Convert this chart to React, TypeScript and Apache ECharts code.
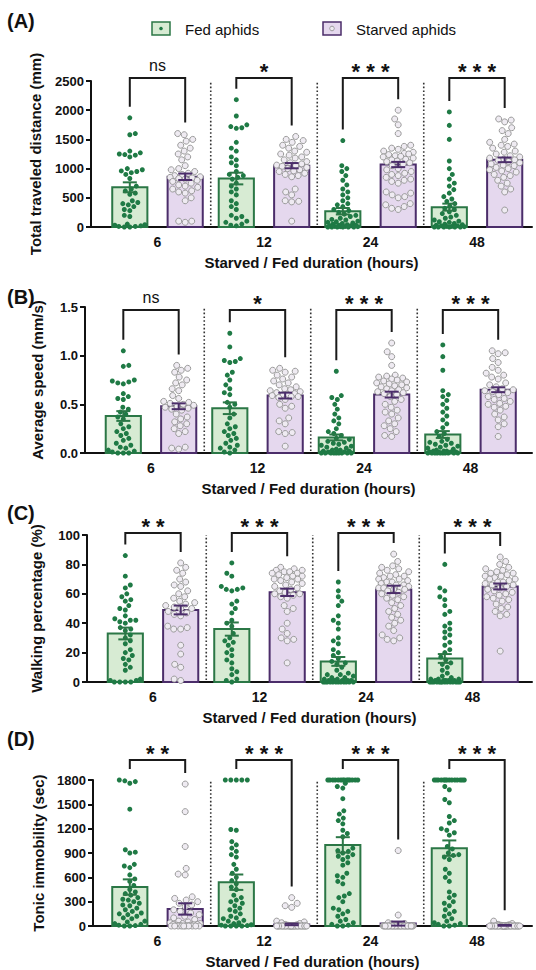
import React, { useEffect, useRef } from "react";
import * as echarts from "echarts";

// ---------------- DATA ----------------
const durationLabels = ["6", "12", "24", "48"];
const groupNames = ["Fed aphids", "Starved aphids"];
const xTitle = "Starved / Fed duration (hours)";

// (A) Total traveled distance (mm)
const distanceFedMean = [680, 830, 270, 340];
const distanceFedSem = [85, 100, 55, 60];
const distanceStarvedMean = [860, 1050, 1070, 1150];
const distanceStarvedSem = [55, 45, 45, 40];
const distanceSig = ["ns", "*", "***", "***"];
const distanceFedPoints = [
  [1870, 1600, 1580, 1300, 1270, 1250, 1240, 1230, 1200, 1000, 980, 960, 950, 930, 900, 830, 700, 650, 620, 580, 560, 450, 420, 400, 380, 350, 300, 280, 200, 180, 50, 40, 30, 20, 10, 10, 0, 0],
  [2180, 1900, 1750, 1720, 1700, 1690, 1450, 1350, 1300, 1200, 1150, 1100, 1050, 950, 900, 880, 850, 820, 750, 700, 650, 600, 550, 450, 400, 350, 300, 200, 180, 150, 100, 80, 50, 30, 20],
  [1480, 1050, 1000, 950, 880, 800, 720, 650, 600, 550, 500, 450, 400, 380, 350, 300, 280, 250, 220, 200, 180, 150, 130, 120, 100, 90, 80, 70, 60, 50, 40, 30, 30, 20, 20, 10, 10, 5, 5, 0, 0, 0, 0, 0, 0],
  [1970, 1740, 1500, 1130, 1000, 900, 820, 750, 700, 640, 580, 520, 480, 440, 400, 360, 320, 300, 260, 230, 200, 170, 150, 120, 100, 90, 80, 60, 50, 40, 30, 20, 20, 10, 10, 5, 0, 0, 0, 0, 0, 0],
];
const distanceStarvedPoints = [
  [1600, 1580, 1500, 1470, 1400, 1350, 1300, 1250, 1200, 1150, 1050, 1000, 980, 950, 920, 900, 880, 860, 850, 840, 830, 820, 800, 780, 750, 720, 700, 680, 650, 620, 600, 580, 500, 450, 100, 80, 100],
  [1550, 1500, 1480, 1450, 1400, 1380, 1350, 1300, 1280, 1250, 1230, 1200, 1180, 1150, 1120, 1100, 1080, 1060, 1050, 1040, 1020, 1000, 980, 960, 950, 920, 900, 880, 860, 650, 600, 550, 450, 440, 430, 100],
  [2000, 1850, 1750, 1600, 1400, 1380, 1350, 1330, 1300, 1280, 1260, 1250, 1240, 1220, 1210, 1200, 1180, 1160, 1150, 1130, 1120, 1100, 1080, 1050, 1000, 980, 950, 920, 900, 880, 850, 820, 800, 780, 750, 600, 580, 550, 520, 500, 400, 380, 350, 320, 300],
  [1850, 1830, 1800, 1700, 1650, 1600, 1500, 1450, 1420, 1400, 1380, 1350, 1300, 1280, 1250, 1220, 1200, 1180, 1160, 1150, 1140, 1120, 1100, 1080, 1060, 1050, 1020, 1000, 980, 960, 940, 900, 880, 850, 800, 750, 700, 650, 600, 290],
];

// (B) Average speed (mm/s)
const speedFedMean = [0.38, 0.46, 0.16, 0.19];
const speedFedSem = [0.05, 0.06, 0.03, 0.035];
const speedStarvedMean = [0.48, 0.59, 0.6, 0.65];
const speedStarvedSem = [0.03, 0.03, 0.03, 0.025];
const speedSig = ["ns", "*", "***", "***"];
const speedFedPoints = [
  [1.05, 0.9, 0.89, 0.75, 0.74, 0.73, 0.72, 0.71, 0.61, 0.58, 0.56, 0.55, 0.47, 0.45, 0.42, 0.4, 0.37, 0.35, 0.3, 0.27, 0.25, 0.22, 0.2, 0.18, 0.15, 0.13, 0.1, 0.08, 0.06, 0.05, 0.03, 0.02, 0.01, 0, 0, 0],
  [1.23, 1.09, 0.97, 0.95, 0.94, 0.93, 0.83, 0.8, 0.75, 0.7, 0.66, 0.62, 0.6, 0.52, 0.5, 0.47, 0.4, 0.36, 0.3, 0.27, 0.25, 0.22, 0.2, 0.18, 0.15, 0.13, 0.1, 0.08, 0.06, 0.05, 0.03, 0.01, 0],
  [0.84, 0.59, 0.57, 0.55, 0.5, 0.45, 0.4, 0.36, 0.33, 0.3, 0.25, 0.22, 0.2, 0.18, 0.15, 0.14, 0.12, 0.11, 0.1, 0.09, 0.08, 0.07, 0.06, 0.05, 0.04, 0.03, 0.03, 0.02, 0.02, 0.01, 0.01, 0, 0, 0, 0, 0, 0, 0, 0, 0],
  [1.11, 0.99, 0.85, 0.64, 0.6, 0.58, 0.54, 0.5, 0.46, 0.42, 0.38, 0.34, 0.3, 0.26, 0.22, 0.2, 0.17, 0.14, 0.12, 0.11, 0.1, 0.09, 0.08, 0.07, 0.06, 0.05, 0.04, 0.03, 0.02, 0.02, 0.02, 0.01, 0.01, 0.01, 0.01, 0, 0, 0, 0, 0, 0, 0, 0, 0, 0],
];
const speedStarvedPoints = [
  [0.9, 0.87, 0.85, 0.83, 0.78, 0.75, 0.72, 0.7, 0.66, 0.64, 0.59, 0.56, 0.53, 0.52, 0.51, 0.5, 0.49, 0.48, 0.47, 0.46, 0.45, 0.44, 0.4, 0.37, 0.35, 0.32, 0.3, 0.28, 0.25, 0.22, 0.2, 0.06, 0.05, 0.04],
  [0.87, 0.85, 0.84, 0.83, 0.8, 0.78, 0.76, 0.74, 0.72, 0.7, 0.68, 0.66, 0.65, 0.64, 0.63, 0.62, 0.61, 0.6, 0.6, 0.59, 0.58, 0.58, 0.57, 0.55, 0.5, 0.48, 0.46, 0.36, 0.33, 0.3, 0.22, 0.21, 0.2, 0.07],
  [1.13, 1.04, 0.99, 0.9, 0.8, 0.79, 0.78, 0.77, 0.76, 0.75, 0.74, 0.73, 0.72, 0.71, 0.7, 0.69, 0.68, 0.67, 0.66, 0.65, 0.64, 0.63, 0.62, 0.61, 0.6, 0.58, 0.55, 0.53, 0.5, 0.47, 0.44, 0.42, 0.4, 0.36, 0.33, 0.3, 0.28, 0.25, 0.22, 0.18, 0.17],
  [1.05, 1.03, 1.02, 0.97, 0.93, 0.88, 0.85, 0.82, 0.8, 0.78, 0.76, 0.72, 0.7, 0.68, 0.66, 0.65, 0.64, 0.63, 0.62, 0.6, 0.58, 0.56, 0.55, 0.53, 0.51, 0.5, 0.48, 0.47, 0.44, 0.4, 0.37, 0.34, 0.3, 0.27, 0.17],
];

// (C) Walking percentage (%)
const walkFedMean = [33, 36, 14, 16];
const walkFedSem = [4, 4.5, 3, 3];
const walkStarvedMean = [49, 61, 63, 65];
const walkStarvedSem = [3, 2.5, 2.5, 2];
const walkSig = ["**", "***", "***", "***"];
const walkFedPoints = [
  [86, 72, 66, 64, 60, 58, 56, 55, 52, 50, 49, 45, 43, 42, 42, 41, 40, 37, 36, 35, 32, 30, 28, 26, 22, 20, 18, 16, 15, 12, 10, 8, 2, 1, 1, 0, 0, 0, 0],
  [81, 74, 72, 65, 64, 63, 63, 62, 55, 53, 50, 47, 42, 40, 38, 33, 30, 28, 27, 25, 22, 20, 18, 15, 13, 9, 7, 5, 2, 1, 0],
  [68, 62, 58, 55, 52, 45, 42, 40, 36, 30, 28, 26, 22, 20, 18, 16, 14, 13, 12, 10, 8, 6, 5, 5, 4, 3, 3, 2, 2, 1, 1, 1, 1, 1, 0, 0, 0, 0, 0, 0, 0, 0, 0, 0, 0, 0],
  [80, 64, 62, 58, 56, 52, 48, 46, 40, 38, 36, 34, 32, 30, 27, 25, 22, 20, 17, 15, 13, 12, 10, 8, 6, 4, 3, 2, 2, 2, 1, 1, 1, 1, 1, 0, 0, 0, 0, 0, 0, 0, 0, 0, 0, 0, 0, 0, 0],
];
const walkStarvedPoints = [
  [81, 78, 76, 74, 70, 68, 66, 65, 62, 60, 58, 57, 55, 54, 53, 52, 51, 50, 50, 48, 47, 46, 45, 38, 37, 36, 36, 25, 19, 12, 10, 2, 1],
  [78, 77, 76, 76, 75, 75, 74, 74, 73, 72, 72, 71, 70, 70, 69, 68, 67, 66, 65, 64, 63, 62, 61, 60, 60, 59, 58, 57, 52, 50, 48, 40, 36, 33, 30, 29, 28, 13],
  [87, 82, 79, 78, 77, 76, 75, 74, 73, 72, 72, 71, 70, 70, 69, 68, 68, 67, 66, 66, 65, 65, 64, 64, 64, 63, 63, 62, 61, 60, 59, 58, 57, 56, 54, 52, 50, 48, 46, 44, 42, 40, 38, 35, 32, 30, 29, 28],
  [85, 82, 80, 78, 77, 76, 75, 74, 74, 73, 72, 72, 71, 70, 70, 69, 68, 68, 67, 66, 66, 65, 64, 63, 62, 61, 60, 59, 58, 57, 56, 55, 53, 51, 50, 48, 46, 45, 21],
];

// (D) Tonic immobility (sec)
const tonicFedMean = [480, 540, 1000, 960];
const tonicFedSem = [95, 95, 95, 95];
const tonicStarvedMean = [210, 20, 30, 8];
const tonicStarvedSem = [70, 10, 25, 5];
const tonicSig = ["**", "***", "***", "***"];
const tonicFedPoints = [
  [1800, 1790, 1780, 1760, 1440, 940, 910, 900, 760, 740, 720, 630, 580, 550, 500, 450, 420, 400, 380, 350, 330, 320, 300, 280, 260, 250, 220, 200, 180, 160, 150, 140, 120, 100, 90, 60, 50, 30, 20, 10, 5, 0, 0],
  [1800, 1800, 1800, 1800, 1800, 1190, 1180, 1040, 1000, 960, 920, 880, 850, 760, 700, 650, 600, 560, 520, 480, 450, 380, 350, 320, 300, 280, 250, 220, 200, 180, 150, 120, 100, 90, 70, 60, 40, 30, 15, 10, 5, 0, 0, 0, 0],
  [1800, 1800, 1800, 1800, 1800, 1800, 1800, 1800, 1800, 1800, 1800, 1800, 1800, 1800, 1760, 1720, 1700, 1570, 1420, 1380, 1330, 1300, 1260, 1180, 1140, 1100, 960, 930, 920, 900, 880, 860, 850, 820, 780, 750, 650, 620, 600, 550, 520, 400, 370, 350, 300, 220, 200, 180, 150, 120, 80, 60, 40, 20, 10, 0, 0],
  [1800, 1800, 1800, 1800, 1800, 1800, 1800, 1800, 1800, 1800, 1800, 1800, 1800, 1800, 1720, 1680, 1560, 1520, 1350, 1300, 1270, 1200, 1180, 1150, 1120, 980, 950, 900, 880, 870, 850, 820, 700, 650, 600, 550, 420, 380, 350, 300, 280, 250, 200, 180, 150, 120, 90, 60, 40, 30, 20, 10, 0, 0],
];
const tonicStarvedPoints = [
  [1750, 1410, 980, 710, 640, 630, 360, 340, 320, 300, 280, 260, 240, 200, 180, 160, 140, 120, 100, 80, 60, 50, 40, 30, 30, 20, 20, 15, 10, 10, 5, 5, 0, 0, 0, 0, 0, 0, 0, 0, 0, 0],
  [350, 280, 250, 230, 60, 50, 40, 30, 20, 15, 10, 8, 6, 5, 4, 3, 2, 1, 0, 0, 0, 0, 0, 0, 0, 0, 0, 0, 0, 0, 0, 0, 0, 0, 0, 0, 0, 0, 0, 0, 0, 0, 0, 0, 0, 0],
  [930, 135, 40, 30, 25, 20, 15, 10, 8, 5, 3, 2, 1, 0, 0, 0, 0, 0, 0, 0, 0, 0, 0, 0, 0, 0, 0, 0, 0, 0, 0, 0, 0, 0, 0, 0, 0, 0],
  [60, 30, 20, 15, 10, 8, 5, 3, 2, 1, 0, 0, 0, 0, 0, 0, 0, 0, 0, 0, 0, 0, 0, 0, 0, 0, 0, 0, 0, 0, 0, 0, 0, 0, 0, 0, 0, 0, 0, 0],
];

// ---------------- PANELS (built from the arrays above) ----------------
const panels = [
  { fedMean: distanceFedMean, fedSem: distanceFedSem, stvMean: distanceStarvedMean, stvSem: distanceStarvedSem, fedPts: distanceFedPoints, stvPts: distanceStarvedPoints, sig: distanceSig, yMax: 2500, yStep: 500, dec: 0, yName: "Total traveled distance (mm)", tag: "(A)" },
  { fedMean: speedFedMean, fedSem: speedFedSem, stvMean: speedStarvedMean, stvSem: speedStarvedSem, fedPts: speedFedPoints, stvPts: speedStarvedPoints, sig: speedSig, yMax: 1.5, yStep: 0.5, dec: 1, yName: "Average speed (mm/s)", tag: "(B)" },
  { fedMean: walkFedMean, fedSem: walkFedSem, stvMean: walkStarvedMean, stvSem: walkStarvedSem, fedPts: walkFedPoints, stvPts: walkStarvedPoints, sig: walkSig, yMax: 100, yStep: 20, dec: 0, yName: "Walking percentage (%)", tag: "(C)" },
  { fedMean: tonicFedMean, fedSem: tonicFedSem, stvMean: tonicStarvedMean, stvSem: tonicStarvedSem, fedPts: tonicFedPoints, stvPts: tonicStarvedPoints, sig: tonicSig, yMax: 1800, yStep: 300, dec: 0, yName: "Tonic immobility (sec)", tag: "(D)" },
];

// ---------------- LAYOUT / STYLE ----------------
const layout = [
  { top: 81, bottom: 227, left: 91, center0: 157.5, bracketPx: 3, nameGap: 48, tagY: 22 },
  { top: 307, bottom: 453, left: 85, center0: 151, bracketPx: -3, nameGap: 40, tagY: 298 },
  { top: 535, bottom: 682, left: 87, center0: 153, bracketPx: 2, nameGap: 43, tagY: 514 },
  { top: 780, bottom: 927, left: 93, center0: 157.5, bracketPx: 20, nameGap: 46, tagY: 740 },
];
const X_UNIT = 106.5;
const RIGHT_EDGE = 532;
const SIDE = 0.26;
const BAR_W = 0.33;
const FONT = '"Liberation Sans", Arial, Helvetica, sans-serif';
const INK = "#111";
const FED_DARK = "#2b7746";
const FED_FILL = "#d7ebd3";
const FED_DOT = "#1f7a45";
const STV_DARK = "#4b2d6a";
const STV_FILL = "#e5d8ee";
const STV_RING = "#9a9a9a";
const STV_RING_FILL = "#efebf2";

function swarmOffsets(values: number[], pxPerUnit: number, minDist: number, maxOff: number): number[] {
  const order = values.map((_, i) => i).sort((a, b) => values[a] - values[b]);
  const placed: { x: number; y: number }[] = [];
  const out: number[] = new Array(values.length).fill(0);
  const cands: number[] = [0];
  for (let s = 0.5; s <= maxOff + 1e-9; s += 0.5) cands.push(s, -s);
  order.forEach((idx, n) => {
    const y = values[idx] * pxPerUnit;
    let best = 0;
    let bestD = -1;
    for (const c0 of cands) {
      const c = n % 2 ? -c0 : c0;
      let d = Infinity;
      for (const p of placed) {
        const dy = p.y - y;
        if (Math.abs(dy) >= minDist) continue;
        const dd = Math.hypot(p.x - c, dy);
        if (dd < d) d = dd;
      }
      if (d >= minDist) {
        best = c;
        break;
      }
      if (d > bestD) {
        bestD = d;
        best = c;
      }
    }
    placed.push({ x: best, y });
    out[idx] = best;
  });
  return out;
}

function barRenderer(stroke: string, fill: string) {
  return (_params: any, api: any) => {
    const x = api.value(0);
    const m = api.value(1);
    const base = api.coord([x, 0]);
    const top = api.coord([x, m]);
    const w = api.size([BAR_W, 0])[0];
    return {
      type: "rect",
      shape: { x: base[0] - w / 2, y: top[1], width: w, height: base[1] - top[1] },
      style: { fill, stroke, lineWidth: 2 },
    };
  };
}

function errRenderer(stroke: string) {
  return (_params: any, api: any) => {
    const x = api.value(0);
    const m = api.value(1);
    const s = api.value(2);
    const hi = api.coord([x, m + s]);
    const lo = api.coord([x, Math.max(0, m - s)]);
    const cw = 7;
    const st = { stroke, lineWidth: 2 };
    return {
      type: "group",
      children: [
        { type: "line", shape: { x1: hi[0], y1: hi[1], x2: lo[0], y2: lo[1] }, style: st },
        { type: "line", shape: { x1: hi[0] - cw, y1: hi[1], x2: hi[0] + cw, y2: hi[1] }, style: st },
        { type: "line", shape: { x1: lo[0] - cw, y1: lo[1], x2: lo[0] + cw, y2: lo[1] }, style: st },
      ],
    };
  };
}

function buildOption() {
  const grid: any[] = [];
  const xAxis: any[] = [];
  const yAxis: any[] = [];
  const series: any[] = [];
  const graphic: any[] = [];

  panels.forEach((p, k) => {
    const L = layout[k];
    const xMin = -(L.center0 - L.left) / X_UNIT;
    const xMax = (RIGHT_EDGE - L.center0) / X_UNIT;
    grid.push({ left: L.left, top: L.top, width: RIGHT_EDGE - L.left, height: L.bottom - L.top });
    xAxis.push({
      gridIndex: k,
      type: "value",
      min: xMin,
      max: xMax,
      axisLine: { show: true, onZero: false, lineStyle: { color: INK, width: 2 } },
      axisTick: { show: false },
      splitLine: { show: false },
      axisLabel: {
        customValues: [0, 1, 2, 3],
        formatter: (v: number) => durationLabels[Math.round(v)] ?? "",
        fontSize: 14,
        fontWeight: "bold",
        fontFamily: FONT,
        color: INK,
        margin: 8,
      },
      name: xTitle,
      nameLocation: "middle",
      nameGap: 28,
      nameTextStyle: { fontSize: 15, fontWeight: "bold", fontFamily: FONT, color: INK },
    });
    yAxis.push({
      gridIndex: k,
      type: "value",
      min: 0,
      max: p.yMax,
      interval: p.yStep,
      axisLine: { show: true, onZero: false, lineStyle: { color: INK, width: 2 } },
      axisTick: { show: true, length: 5, lineStyle: { color: INK, width: 2 } },
      splitLine: { show: false },
      axisLabel: {
        formatter: (v: number) => v.toFixed(p.dec),
        fontSize: 13,
        fontWeight: "bold",
        fontFamily: FONT,
        color: INK,
        margin: 7,
      },
      name: p.yName,
      nameLocation: "middle",
      nameGap: L.nameGap,
      nameTextStyle: { fontSize: 15, fontWeight: "bold", fontFamily: FONT, color: INK },
    });

    const pyu = (L.bottom - L.top) / p.yMax;
    const fedData: number[][] = [];
    const stvData: number[][] = [];
    p.fedPts.forEach((vals, i) => {
      const offs = swarmOffsets(vals, pyu, 5.4, 15);
      vals.forEach((v, j) => fedData.push([i - SIDE + offs[j] / X_UNIT, v]));
    });
    p.stvPts.forEach((vals, i) => {
      const offs = swarmOffsets(vals, pyu, 6.6, 15);
      vals.forEach((v, j) => stvData.push([i + SIDE + offs[j] / X_UNIT, v]));
    });

    const common = { xAxisIndex: k, yAxisIndex: k, silent: true };

    // separators
    series.push({
      ...common,
      type: "custom",
      coordinateSystem: "cartesian2d",
      clip: false,
      z: 1,
      encode: { x: 0, y: 1 },
      data: [[0.5, 0], [1.5, 0], [2.5, 0]],
      renderItem: (_pa: any, api: any) => {
        const x = api.value(0);
        const b = api.coord([x, 0]);
        const t = api.coord([x, p.yMax]);
        return {
          type: "line",
          shape: { x1: b[0], y1: b[1] - 2, x2: t[0], y2: t[1] },
          style: { stroke: "#333", lineWidth: 1.6, lineDash: [1.6, 2.2] },
        };
      },
    });

    // bars
    series.push({
      ...common,
      type: "custom",
      coordinateSystem: "cartesian2d",
      clip: false,
      z: 2,
      encode: { x: 0, y: 1 },
      data: p.fedMean.map((m, i) => [i - SIDE, m, p.fedSem[i]]),
      renderItem: barRenderer(FED_DARK, FED_FILL),
    });
    series.push({
      ...common,
      type: "custom",
      coordinateSystem: "cartesian2d",
      clip: false,
      z: 2,
      encode: { x: 0, y: 1 },
      data: p.stvMean.map((m, i) => [i + SIDE, m, p.stvSem[i]]),
      renderItem: barRenderer(STV_DARK, STV_FILL),
    });

    // points
    series.push({
      ...common,
      name: groupNames[0],
      type: "scatter",
      clip: false,
      z: 3,
      symbol: "circle",
      symbolSize: 5,
      itemStyle: { color: FED_DOT, opacity: 1 },
      data: fedData,
    });
    series.push({
      ...common,
      name: groupNames[1],
      type: "scatter",
      clip: false,
      z: 3,
      symbol: "circle",
      symbolSize: 6,
      itemStyle: { color: STV_RING_FILL, borderColor: STV_RING, borderWidth: 1, opacity: 1 },
      data: stvData,
    });

    // error bars
    series.push({
      ...common,
      type: "custom",
      coordinateSystem: "cartesian2d",
      clip: false,
      z: 4,
      encode: { x: 0, y: 1 },
      data: p.fedMean.map((m, i) => [i - SIDE, m, p.fedSem[i]]),
      renderItem: errRenderer(FED_DARK),
    });
    series.push({
      ...common,
      type: "custom",
      coordinateSystem: "cartesian2d",
      clip: false,
      z: 4,
      encode: { x: 0, y: 1 },
      data: p.stvMean.map((m, i) => [i + SIDE, m, p.stvSem[i]]),
      renderItem: errRenderer(STV_DARK),
    });

    // significance brackets
    series.push({
      ...common,
      type: "custom",
      coordinateSystem: "cartesian2d",
      clip: false,
      z: 5,
      encode: { x: 0, y: 1 },
      data: p.sig.map((_s, i) => [i, Math.max(...p.fedPts[i]), Math.max(...p.stvPts[i])]),
      renderItem: (params: any, api: any) => {
        const i = api.value(0);
        const l = api.coord([i - SIDE, api.value(1)]);
        const r = api.coord([i + SIDE, api.value(2)]);
        const top = api.coord([i, p.yMax])[1] - L.bracketPx;
        const s = p.sig[params.dataIndex];
        const isStar = s !== "ns";
        return {
          type: "group",
          children: [
            {
              type: "polyline",
              shape: { points: [[l[0], l[1] - 11], [l[0], top], [r[0], top], [r[0], r[1] - 11]] },
              style: { stroke: "#1a1a1a", lineWidth: 2, fill: null },
            },
            {
              type: "text",
              x: (l[0] + r[0]) / 2,
              y: isStar ? top - 7 : top - 13,
              style: {
                text: isStar ? s.split("").join(" ") : s,
                fill: INK,
                fontSize: isStar ? 22 : 16,
                fontWeight: isStar ? "bold" : "normal",
                fontFamily: FONT,
                align: "center",
                verticalAlign: "middle",
              },
            },
          ],
        };
      },
    });

    graphic.push({
      type: "text",
      left: 7,
      top: L.tagY - 11,
      style: { text: p.tag, fontSize: 20, fontWeight: "bold", fontFamily: FONT, fill: INK },
    });
  });

  // legend
  graphic.push(
    { type: "rect", shape: { x: 152, y: 22, width: 18, height: 13 }, style: { fill: FED_FILL, stroke: FED_DARK, lineWidth: 1.5 } },
    { type: "circle", shape: { cx: 161, cy: 28.5, r: 1.8 }, style: { fill: FED_DOT } },
    { type: "text", x: 185, y: 29, style: { text: groupNames[0], fontSize: 15, fontFamily: FONT, fill: INK, verticalAlign: "middle" } },
    { type: "rect", shape: { x: 323, y: 22, width: 18, height: 13 }, style: { fill: STV_FILL, stroke: STV_DARK, lineWidth: 1.5 } },
    { type: "circle", shape: { cx: 332, cy: 28.5, r: 2.3 }, style: { fill: STV_RING_FILL, stroke: STV_RING, lineWidth: 1 } },
    { type: "text", x: 356, y: 29, style: { text: groupNames[1], fontSize: 15, fontFamily: FONT, fill: INK, verticalAlign: "middle" } }
  );

  return {
    animation: false,
    backgroundColor: "#ffffff",
    grid,
    xAxis,
    yAxis,
    series,
    graphic,
  };
}

export default function App() {
  const ref = useRef<HTMLDivElement>(null);
  useEffect(() => {
    if (!ref.current) return;
    const chart = echarts.init(ref.current, null, { renderer: "svg" });
    chart.setOption(buildOption() as any);
    return () => chart.dispose();
  }, []);
  return (
    <div
      ref={ref}
      style={{ position: "fixed", left: 0, top: 0, width: 536, height: 970, background: "#fff" }}
    />
  );
}
